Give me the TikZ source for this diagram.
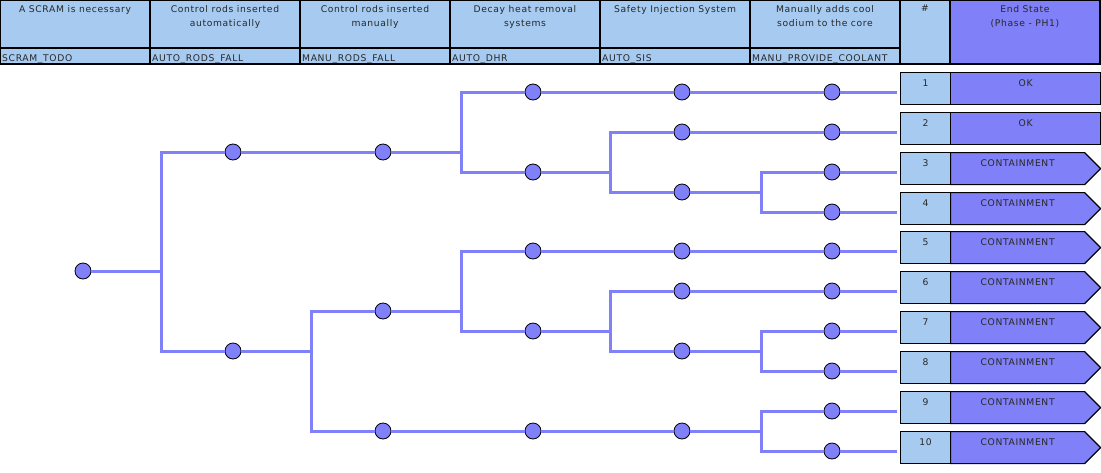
\documentclass[tikz,border=0pt]{standalone}
\usepackage{fontspec}
\setmainfont{DejaVu Sans}[LetterSpace=7]
\usetikzlibrary{positioning,shapes.symbols}
\definecolor{hdrblue}{RGB}{166,202,240}
\definecolor{esblue}{RGB}{128,128,248}
\definecolor{txtgray}{RGB}{40,40,40}
\tikzset{
  evt/.style={circle,draw=black,fill=esblue,minimum size=16pt,inner sep=0pt,line width=0.8pt},
  branch/.style={draw=esblue,line width=3pt},
  cell/.style={draw=black,line width=1.2pt,fill=hdrblue},
  lbl/.style={font=\fontsize{9.2}{14}\selectfont,text=txtgray},
  numbox/.style={draw=black,line width=1.2pt,fill=hdrblue,minimum width=50pt,inner xsep=0pt,inner ysep=2pt,text height=12pt,text depth=16pt,lbl},
  okbox/.style={draw=black,line width=1.2pt,fill=esblue,minimum width=150pt,inner xsep=0pt,inner ysep=2pt,text height=12pt,text depth=16pt,lbl},
  failbox/.style={okbox,shape=signal,signal to=east,signal pointer angle=90,minimum width=150pt}
}
\begin{document}
\begin{tikzpicture}[x=1pt,y=-1pt]
\useasboundingbox (0,0) rectangle (1101,472);
% header
\foreach \i/\t/\c in {0/{A SCRAM is necessary}/{SCRAM\_TODO},
    1/{Control rods inserted\\automatically}/{AUTO\_RODS\_FALL},
    2/{Control rods inserted\\manually}/{MANU\_RODS\_FALL},
    3/{Decay heat removal\\systems}/{AUTO\_DHR},
    4/{Safety Injection System}/{AUTO\_SIS},
    5/{Manually adds cool\\sodium to the core}/{MANU\_PROVIDE\_COOLANT}} {
  \draw[cell] (150*\i,0) rectangle ++(150,48);
  \draw[cell] (150*\i,48) rectangle ++(150,16);
  \node[lbl,align=center,anchor=north,inner sep=0pt] (h\i) at (150*\i+75,5) {\t};
  \node[lbl,anchor=base west,inner sep=0pt] (c\i) at (150*\i+2,61) {\c};
}
\draw[cell] (900,0) rectangle (950,64);
\draw[cell,fill=esblue] (950,0) rectangle (1100,64);
\node[lbl,anchor=north,inner sep=0pt] (hnum) at (925,5) {\#};
\node[lbl,align=center,anchor=north,inner sep=0pt] (hend) at (1025,5) {End State\\(Phase - PH1)};

% event tree
\node[evt] (init) at (83,271) {};
\coordinate (s0) at (161,271);
\node[evt] (a1) at (233,152) {};
\node[evt] (a2) at (233,351) {};
\node[evt] (b1) at (383,152) {};
\coordinate (s1) at (461,152);
\node[evt] (c1) at (533,92) {};
\node[evt] (c2) at (533,172) {};
\node[evt] (d1) at (682,92) {};
\node[evt] (e1) at (832,92) {};
\coordinate (s2) at (610,172);
\node[evt] (d2) at (682,132) {};
\node[evt] (e2) at (832,132) {};
\node[evt] (d3) at (682,192) {};
\coordinate (s3) at (761,192);
\node[evt] (e3) at (832,172) {};
\node[evt] (e4) at (832,212) {};
\coordinate (s4) at (311,351);
\node[evt] (b2) at (383,311) {};
\node[evt] (b3) at (383,431) {};
\coordinate (s5) at (461,311);
\node[evt] (c3) at (533,251) {};
\node[evt] (c4) at (533,331) {};
\node[evt] (d4) at (682,251) {};
\node[evt] (e5) at (832,251) {};
\coordinate (s6) at (610,331);
\node[evt] (d5) at (682,291) {};
\node[evt] (e6) at (832,291) {};
\node[evt] (d6) at (682,351) {};
\coordinate (s7) at (761,351);
\node[evt] (e7) at (832,331) {};
\node[evt] (e8) at (832,371) {};
\node[evt] (c5) at (533,431) {};
\node[evt] (d7) at (682,431) {};
\coordinate (s8) at (761,431);
\node[evt] (e9) at (832,411) {};
\node[evt] (e10) at (832,451) {};

\draw[branch] (init) -- (s0) |- (a1);
\draw[branch] (s0) |- (a2);
\draw[branch] (a1) -- (b1) -- (s1) |- (c1);
\draw[branch] (s1) |- (c2);
\draw[branch] (c1) -- (d1) -- (e1);
\draw[branch] (c2) -- (s2) |- (d2);
\draw[branch] (s2) |- (d3);
\draw[branch] (d2) -- (e2);
\draw[branch] (d3) -- (s3) |- (e3);
\draw[branch] (s3) |- (e4);
\draw[branch] (a2) -- (s4) |- (b2);
\draw[branch] (s4) |- (b3);
\draw[branch] (b2) -- (s5) |- (c3);
\draw[branch] (s5) |- (c4);
\draw[branch] (c3) -- (d4) -- (e5);
\draw[branch] (c4) -- (s6) |- (d5);
\draw[branch] (s6) |- (d6);
\draw[branch] (d5) -- (e6);
\draw[branch] (d6) -- (s7) |- (e7);
\draw[branch] (s7) |- (e8);
\draw[branch] (b3) -- (c5) -- (d7) -- (s8) |- (e9);
\draw[branch] (s8) |- (e10);

% end states
\foreach \n/\y/\s/\st in {1/92/OK/okbox, 2/132/OK/okbox, 3/172/CONTAINMENT/failbox,
    4/212/CONTAINMENT/failbox, 5/251/CONTAINMENT/failbox, 6/291/CONTAINMENT/failbox,
    7/331/CONTAINMENT/failbox, 8/371/CONTAINMENT/failbox, 9/411/CONTAINMENT/failbox,
    10/451/CONTAINMENT/failbox} {
  \node[numbox,anchor=north west] (k\n) at (900,\y-20) {\n};
  \node[\st,anchor=north west] (o\n) at (950,\y-20) {\s};
  \draw[branch,shorten >=3pt] (e\n) -- (e\n -| k\n.west);
}
\end{tikzpicture}
\end{document}
